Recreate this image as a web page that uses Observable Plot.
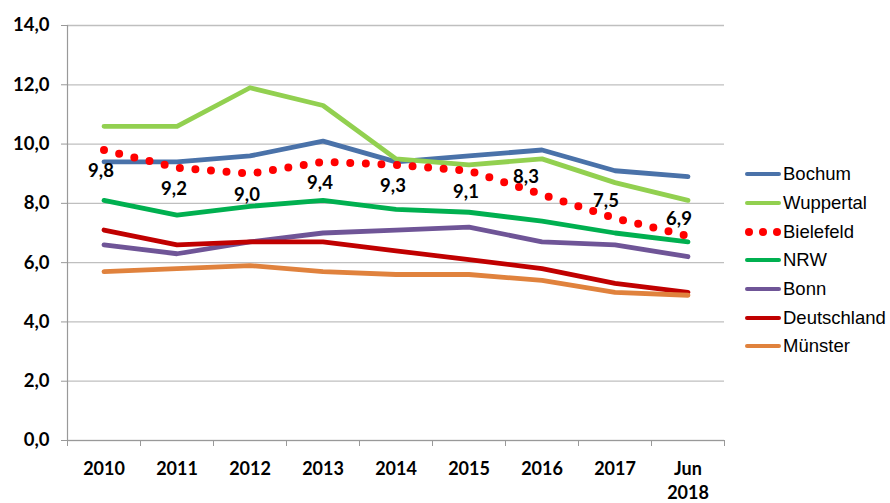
<!DOCTYPE html>
<html>
<head>
<meta charset="utf-8">
<script src="https://cdn.jsdelivr.net/npm/d3@7"></script>
<script src="https://cdn.jsdelivr.net/npm/@observablehq/plot@0.6"></script>
<style>
  body { margin: 0; background: #fff; }
  #chart { position: relative; width: 890px; height: 503px; overflow: hidden; }
  #chart svg { overflow: visible; }
  #legend { position: absolute; left: 745px; top: 160px; font-family: "Liberation Sans", Arial, sans-serif; font-size: 18.5px; color: #000; }
  .item { display: flex; align-items: center; height: 28.7px; }
  .sw { width: 36px; height: 0; border-top: 4.5px solid; border-radius: 3px; margin-right: 2px; }
  .dots { width: 36px; margin-right: 2px; display: flex; justify-content: space-between; }
  .dots span { width: 8px; height: 8px; border-radius: 50%; background: #ff0000; }
</style>
</head>
<body>
<div id="chart"><div id="legend"></div></div>
<script>
(function() {
  "use strict";

  var years = ["2010", "2011", "2012", "2013", "2014", "2015", "2016", "2017", "Jun\n2018"];

  var bochum      = [9.4, 9.4, 9.6, 10.1, 9.4, 9.6, 9.8, 9.1, 8.9];
  var wuppertal   = [10.6, 10.6, 11.9, 11.3, 9.5, 9.3, 9.5, 8.7, 8.1];
  var bielefeld   = [9.8, 9.2, 9.0, 9.4, 9.3, 9.1, 8.3, 7.5, 6.9];
  var nrw         = [8.1, 7.6, 7.9, 8.1, 7.8, 7.7, 7.4, 7.0, 6.7];
  var bonn        = [6.6, 6.3, 6.7, 7.0, 7.1, 7.2, 6.7, 6.6, 6.2];
  var deutschland = [7.1, 6.6, 6.7, 6.7, 6.4, 6.1, 5.8, 5.3, 5.0];
  var muenster    = [5.7, 5.8, 5.9, 5.7, 5.6, 5.6, 5.4, 5.0, 4.9];

  var yTicks = [0, 2, 4, 6, 8, 10, 12, 14];

  var series = [
    { name: "Bochum", values: bochum, color: "#4a72a9" },
    { name: "Wuppertal", values: wuppertal, color: "#92d050" },
    { name: "Bielefeld", values: bielefeld, color: "#ff0000", dotted: true },
    { name: "NRW", values: nrw, color: "#00b050" },
    { name: "Bonn", values: bonn, color: "#6f5597" },
    { name: "Deutschland", values: deutschland, color: "#c00000" },
    { name: "Münster", values: muenster, color: "#e0823d" }
  ];

  // draw order: solid lines first, dotted Bielefeld on top
  var drawOrder = ["Bochum", "Wuppertal", "NRW", "Bonn", "Deutschland", "Münster", "Bielefeld"];

  function rowsOf(s) {
    return s.values.map(function(v, i) {
      return { i: i, value: v, series: s.name };
    });
  }

  var comma = function(d) { return d.toFixed(1).replace(".", ","); };
  var font = "Lato, 'Open Sans', sans-serif";
  var centers = d3.range(years.length);
  var bounds = d3.range(years.length + 1).map(function(i) { return i - 0.5; });

  var marks = [
    Plot.gridY(yTicks, { stroke: "#bfbfbf", strokeOpacity: 1, strokeWidth: 1.3 }),
    Plot.axisY(yTicks, {
      tickSize: 6, stroke: "#999", tickPadding: 12, tickFormat: comma, label: null,
      fontSize: 18.5, fontWeight: "bold", fontFamily: font, fill: "#000"
    }),
    Plot.axisX(bounds, { tickSize: 6, stroke: "#999", label: null, tickFormat: function() { return ""; } }),
    Plot.axisX(centers, {
      tickSize: 0, tickPadding: 18, label: null, tickFormat: function(i) { return years[i]; },
      fontSize: 18, fontWeight: "bold", fontFamily: font, fill: "#000", lineHeight: 1.3
    }),
    Plot.ruleY([0], { stroke: "#999", strokeWidth: 1.2 }),
    Plot.ruleX([-0.5], { stroke: "#999", strokeWidth: 1.2 })
  ];

  drawOrder.forEach(function(name) {
    var s = series.find(function(d) { return d.name === name; });
    if (s.dotted) {
      marks.push(Plot.line(rowsOf(s), {
        x: "i", y: "value", stroke: s.color, strokeWidth: 8,
        strokeLinecap: "round", strokeDasharray: "0 15.6"
      }));
    } else {
      marks.push(Plot.line(rowsOf(s), {
        x: "i", y: "value", stroke: s.color, strokeWidth: 4.8, strokeLinecap: "round"
      }));
    }
  });

  // Bielefeld labels: below the point for the early years, above-left later
  var bRows = rowsOf(series[2]);
  var labelStyle = { fontSize: 18.5, fontWeight: "bold", fontFamily: font, fill: "#000" };
  function labels(filter, dx, dy) {
    return Plot.text(bRows.filter(filter), Object.assign({
      x: "i", y: "value", text: function(d) { return comma(d.value); }, dx: dx, dy: dy
    }, labelStyle));
  }
  marks.push(labels(function(d) { return d.i < 6; }, -3, 21));
  marks.push(labels(function(d) { return d.i === 6; }, -16, -17));
  marks.push(labels(function(d) { return d.i > 6; }, -9, -17));

  var plot = Plot.plot({
    width: 890,
    height: 503,
    marginLeft: 67,
    marginRight: 166,
    marginTop: 25,
    marginBottom: 63,
    x: { type: "linear", domain: [-0.5, years.length - 0.5] },
    y: { domain: [0, 14] },
    style: { fontFamily: font, background: "#fff" },
    marks: marks
  });

  var chart = document.getElementById("chart");
  chart.insertBefore(plot, chart.firstChild);

  var legend = document.getElementById("legend");
  series.forEach(function(s) {
    var item = document.createElement("div");
    item.className = "item";
    var sw = document.createElement("div");
    if (s.dotted) {
      sw.className = "dots";
      sw.innerHTML = "<span></span><span></span><span></span>";
    } else {
      sw.className = "sw";
      sw.style.borderTopColor = s.color;
    }
    var label = document.createElement("span");
    label.textContent = s.name;
    item.appendChild(sw);
    item.appendChild(label);
    legend.appendChild(item);
  });
})();
</script>
</body>
</html>
